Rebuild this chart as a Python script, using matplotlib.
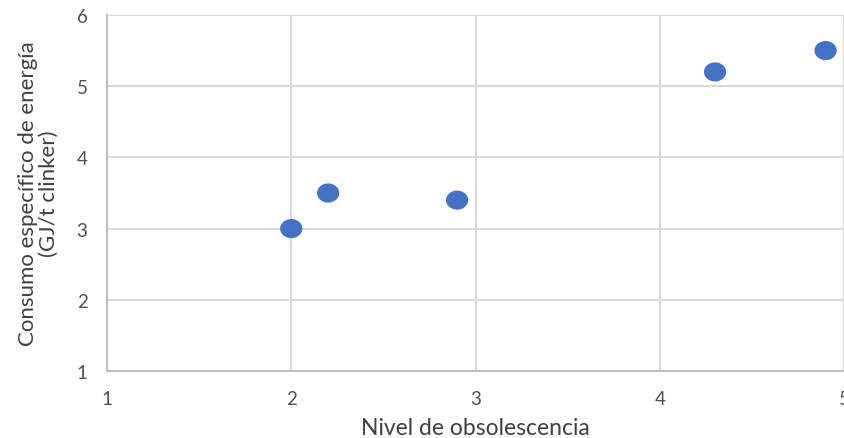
import matplotlib
matplotlib.use("Agg")
import matplotlib.pyplot as plt
from matplotlib.path import Path
from matplotlib.transforms import Affine2D

# Data
obsolescencia = [2.0, 2.2, 2.9, 4.3, 4.9]
consumo = [3.0, 3.5, 3.4, 5.2, 5.5]
x_ticks = [1, 2, 3, 4, 5]
y_ticks = [1, 2, 3, 4, 5, 6]

plt.rcParams["font.family"] = ["Lato", "DejaVu Sans"]

fig = plt.figure(figsize=(8.44, 4.39), dpi=100)
ax = fig.add_axes([0.1268, 0.1526, 0.8732, 0.811])

# Slightly wide oval marker
oval = Path.unit_circle().transformed(Affine2D().scale(1.16, 1.0))

ax.scatter(obsolescencia, consumo, s=16.0 ** 2, marker=oval, color="#4472C4",
           edgecolors="none", zorder=3, clip_on=False)

ax.set_xlim(1, 5)
ax.set_ylim(1, 6)
ax.set_xticks(x_ticks)
ax.set_yticks(y_ticks)

grid_color = "#D9D9D9"
ax.grid(True, color=grid_color, linewidth=1.5)
ax.set_axisbelow(True)
for side in ("top", "right"):
    ax.spines[side].set_visible(False)
for side in ("left", "bottom"):
    ax.spines[side].set_color("#BFBFBF")
    ax.spines[side].set_linewidth(1.5)

ax.tick_params(axis="both", length=0, labelsize=13.5, colors="#505050")
ax.tick_params(axis="x", pad=14)
ax.tick_params(axis="y", pad=14)

ax.set_xlabel("Nivel de obsolescencia", fontsize=16.5, color="#404040", labelpad=7)
ax.set_ylabel("Consumo específico de energía\n(GJ/t clinker)", fontsize=16,
              color="#404040", labelpad=13, linespacing=1.05)

fig.savefig("out.png", dpi=100)
